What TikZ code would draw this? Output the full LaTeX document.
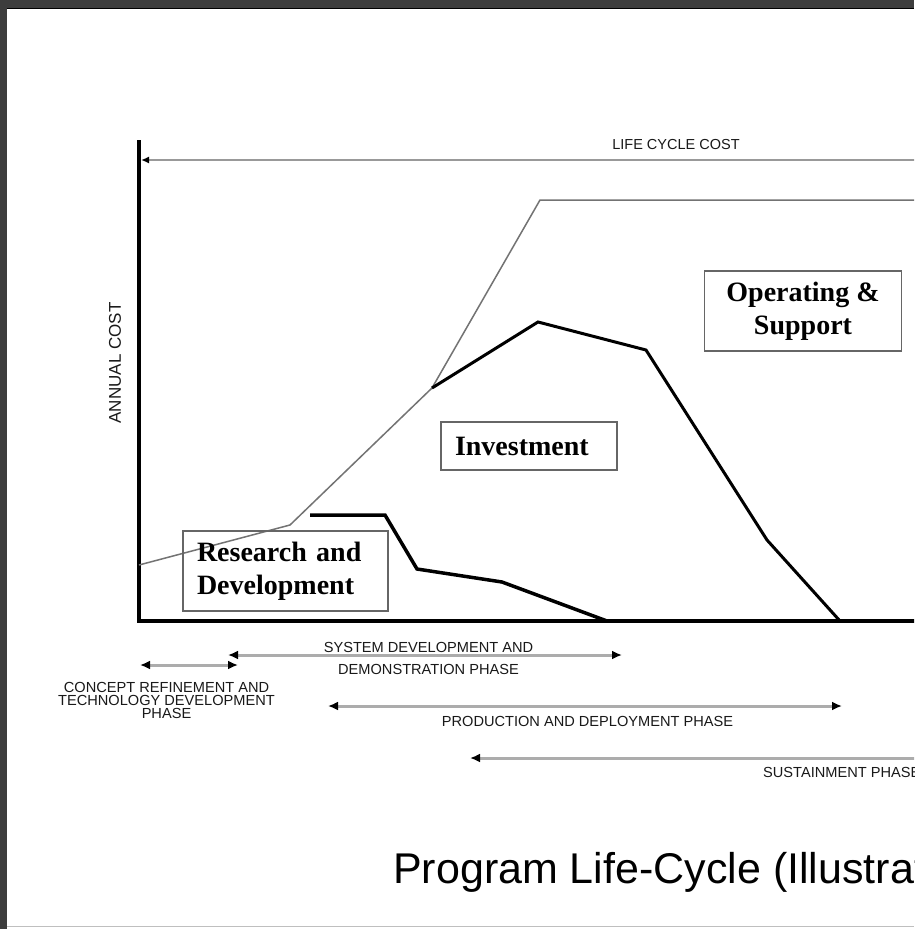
\documentclass[tikz,border=0pt]{standalone}
\usepackage{fontspec}
\setmainfont{Liberation Serif}
\setsansfont{Liberation Sans}
\usetikzlibrary{arrows.meta}

\begin{document}
\begin{tikzpicture}[x=1pt,y=-1pt,
  costbox/.style={draw=gray!80!black,line width=1.4pt,inner sep=0pt,font=\fontsize{28}{33}\selectfont\bfseries},
  phase/.style={line width=3pt,draw=gray!65,{Latex[length=10pt,width=9pt,color=black]}-{Latex[length=10pt,width=9pt,color=black]}},
  phaselabel/.style={font=\fontsize{14.6}{13.2}\selectfont\sffamily,inner sep=0pt,text=black!90}]
\useasboundingbox (0,0) rectangle (914,929);
\clip (0,0) rectangle (914,929);
\fill[white] (0,0) rectangle (914,929);

% Window frame
\fill[black!76] (0,0) rectangle (914,8);
\fill[black!76] (0,0) rectangle (7,929);
\draw[black,line width=1.5pt] (7,8.5) -- (914,8.5);
\draw[gray!50,line width=1pt] (7,926.5) -- (914,926.5);

% Axes
\draw[line width=4pt] (139,140) -- (139,623);
\draw[line width=3.5pt] (137,621) -- (920,621);
\node[rotate=90,font=\fontsize{17}{20}\selectfont\sffamily,inner sep=0pt,text=black!90] (annual) at (115,363) {ANNUAL COST};

% Life cycle cost
\coordinate (lccL) at (141,160);
\coordinate (lccR) at (920,160);
\draw[line width=2pt,draw=gray!80,-{Latex[length=8pt,width=7pt,color=black]}] (lccR) -- (lccL);
\node[font=\fontsize{14.5}{15}\selectfont\sffamily,anchor=base,inner sep=0pt,text=black!90] (lcc) at (676,149) {LIFE CYCLE COST};

% Cumulative cost
\draw[line width=1.5pt,gray!90!black] (139,565) -- (290,525) -- (432,388) -- (540,200) -- (920,200);

% Investment curve
\draw[line width=3pt] (432,388) -- (538,322) -- (646,350) -- (767,540) -- (840,621);

% Research curve
\draw[line width=3.5pt] (310,515) -- (385,515) -- (417,569) -- (502,582) -- (607,621);

% Cost boxes
\node[costbox,minimum width=205pt,minimum height=80pt,text width=177pt,align=left] (rd) at (285.5,571) {Research and\\Development};
\node[costbox,minimum width=176pt,minimum height=48pt,text width=148pt,align=left] (inv) at (529,446) {Investment};
\node[costbox,minimum width=197pt,minimum height=80pt,align=center] (os) at (803,311) {Operating \&\\Support};

% Phases
\coordinate (crL) at (140,665);
\coordinate (crR) at (238,665);
\draw[phase] (crL) -- (crR);
\node[phaselabel,align=center,anchor=north] (crlabel) at (166.5,682) {CONCEPT REFINEMENT AND\\TECHNOLOGY DEVELOPMENT\\PHASE};

\coordinate (sddL) at (228,655);
\coordinate (sddR) at (622,655);
\draw[phase] (sddL) -- (sddR);
\node[phaselabel,font=\fontsize{14.6}{22}\selectfont\sffamily,align=center,anchor=north] (sddlabel) at (428.5,642) {SYSTEM DEVELOPMENT AND\\DEMONSTRATION PHASE};

\coordinate (pdL) at (328,706);
\coordinate (pdR) at (842,706);
\draw[phase] (pdL) -- (pdR);
\node[phaselabel,anchor=base] (pdlabel) at (587.5,726) {PRODUCTION AND DEPLOYMENT PHASE};

\coordinate (spL) at (470,758);
\coordinate (spR) at (940,758);
\draw[phase] (spL) -- (spR);
\node[phaselabel,anchor=base west] (splabel) at (763,777) {SUSTAINMENT PHASE};

% Title
\node[font=\fontsize{43}{50}\selectfont\sffamily,anchor=base west,inner sep=0pt] (title) at (393,883) {Program Life-Cycle (Illustrative)};

\end{tikzpicture}
\end{document}
